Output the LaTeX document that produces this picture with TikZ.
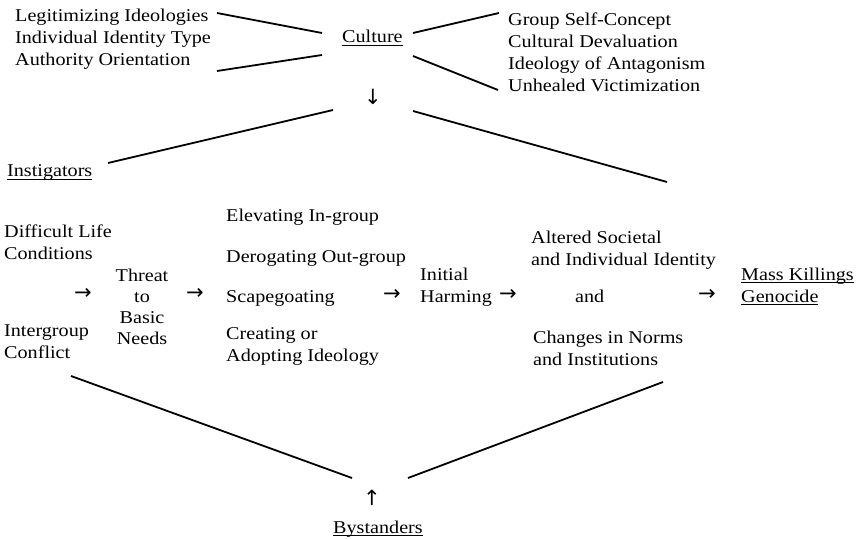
\documentclass[tikz,border=0pt]{standalone}
\usepackage{fontspec}
\setmainfont[FakeStretch=1.12]{Liberation Serif}
\newfontfamily\arrowfont{DejaVu Sans}
\usetikzlibrary{positioning}
\newcommand{\uln}[1]{\setbox0=\hbox{#1}\leavevmode\rlap{\vrule height -2pt depth 3pt width \wd0}\box0}

\begin{document}
\begin{tikzpicture}[x=1pt,y=-1pt,
  txt/.style={anchor=base west,inner sep=0pt,align=left,font=\fontsize{18}{22}\selectfont},
  ctr/.style={txt,anchor=base,align=center,font=\fontsize{18}{21}\selectfont},
  arr/.style={inner sep=0pt,font={\arrowfont\fontsize{21}{21}\selectfont}},
  lnk/.style={line width=1.8pt}]
\useasboundingbox (0,0) rectangle (856,540);
% culture (multi-line texts sit on their last baseline)
\node[txt] (legit) at (15,65.7) {Legitimizing Ideologies\\Individual Identity Type\\Authority Orientation};
\node[txt] (culture) at (342,43) {\uln{Culture}};
\node[txt] (group) at (508,92) {Group Self-Concept\\Cultural Devaluation\\Ideology of Antagonism\\Unhealed Victimization};
\node[arr] (down) at (373,97) {↓};
\node[txt] (instig) at (7,177) {\uln{Instigators}};
% the path
\node[txt] (dlc) at (4,259) {Difficult Life\\Conditions};
\node[txt] (igc) at (4,358) {Intergroup\\Conflict};
\node[arr] (a1) at (83,294) {→};
\node[ctr] (threat) at (142,344) {Threat\\to\\Basic\\Needs};
\node[arr] (a2) at (195,294) {→};
\node[txt] (elev) at (226,222) {Elevating In-group};
\node[txt] (derog) at (226,262) {Derogating Out-group};
\node[txt] (scape) at (226,302) {Scapegoating};
\node[txt] (create) at (226,361) {Creating or\\Adopting Ideology};
\node[arr] (a3) at (392,295) {→};
\node[txt] (harm) at (420,302) {Initial\\Harming};
\node[arr] (a4) at (508,295) {→};
\node[txt] (alter) at (531,265) {Altered Societal\\and Individual Identity};
\node[txt] (and) at (575,302) {and};
\node[txt] (norms) at (533,365) {Changes in Norms\\and Institutions};
\node[arr] (a5) at (707,295) {→};
\node[txt] (mass) at (741,302) {\uln{Mass Killings}\\\uln{Genocide}};
% bystanders
\node[arr] (up) at (372,498) {↑};
\node[txt] (bystand) at (333,533) {\uln{Bystanders}};
% line ends
\coordinate (lg) at (217,13);   \coordinate (cw1) at (322,33);
\coordinate (ao) at (217,71);   \coordinate (cw2) at (322,55);
\coordinate (ce1) at (413,33);  \coordinate (gs) at (499,13);
\coordinate (ce2) at (413,56);  \coordinate (uv) at (498,90);
\coordinate (dw) at (333,110);  \coordinate (is) at (108,163);
\coordinate (de) at (413,111);  \coordinate (rt) at (667,182);
\coordinate (ig) at (71,376);   \coordinate (bw) at (352,478);
\coordinate (be) at (408,478);  \coordinate (cn) at (663,382);
\foreach \a/\b in {lg/cw1,ao/cw2,ce1/gs,ce2/uv,dw/is,de/rt,ig/bw,be/cn} \draw[lnk] (\a)--(\b);
\end{tikzpicture}
\end{document}
